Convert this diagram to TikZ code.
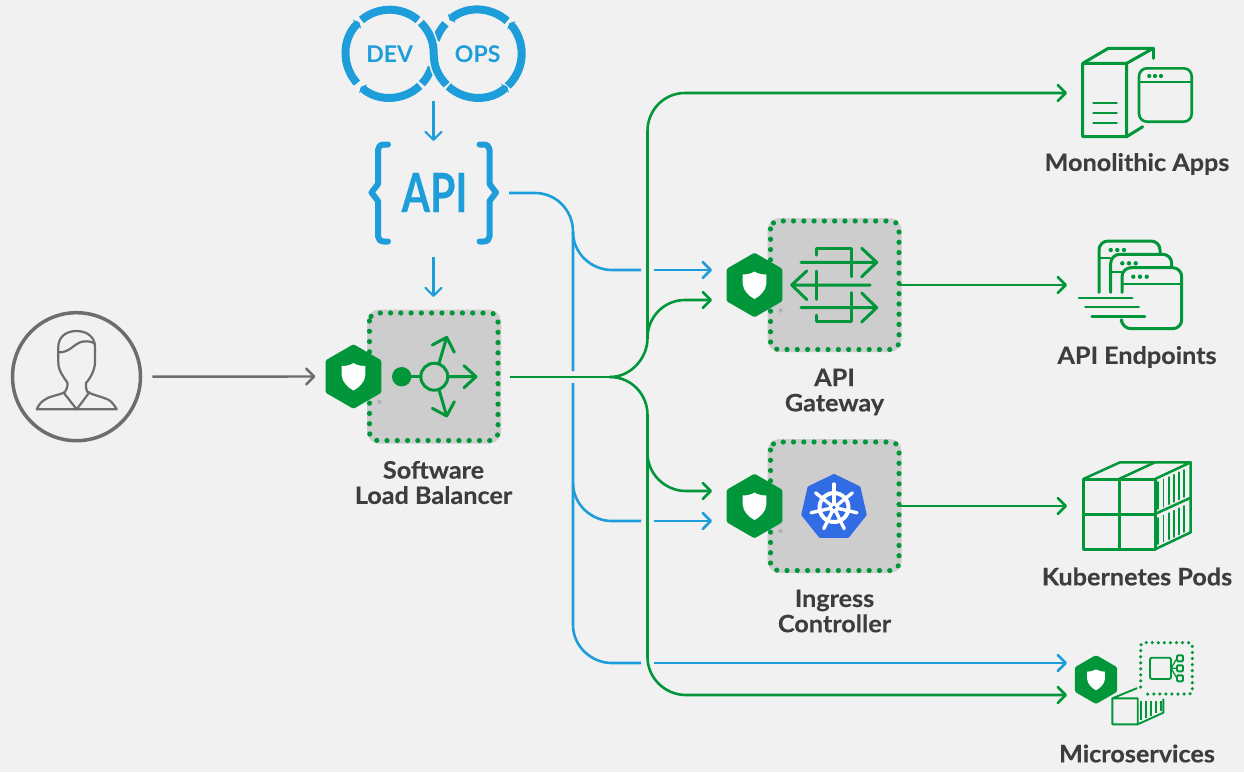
\documentclass[tikz,border=0pt]{standalone}
\usepackage{fontspec}
\setmainfont{Lato}
\newfontfamily\labelfont[FakeStretch=1.05,BoldFeatures={FakeBold=0.25}]{Lato}
\usetikzlibrary{arrows.meta,shapes.geometric}
\definecolor{bg}{HTML}{F1F1F1}
\definecolor{ngreen}{HTML}{009639}
\definecolor{nblue}{HTML}{1D9DD9}
\definecolor{ngray}{HTML}{6D6D6D}
\definecolor{ntext}{HTML}{3D3D3D}
\definecolor{boxgray}{HTML}{CDCDCD}
\definecolor{kblue}{HTML}{326CE5}
\tikzset{
  gline/.style={draw=ngreen,line width=2.6pt},
  bline/.style={draw=nblue,line width=2.6pt},
  barrow/.style={-{Straight Barb[length=8pt,width=16pt,round]}},
  graybox/.style={fill=boxgray,rounded corners=12pt,minimum width=134pt,minimum height=134pt,inner sep=0pt},
  dotline/.style={draw=ngreen,line width=5.2pt,line cap=round,dash pattern=on 0pt off 10.27pt,rounded corners=8pt},
  hexnode/.style={regular polygon,regular polygon sides=6,regular polygon rotate=30,fill=ngreen,inner sep=0pt,rounded corners=1.5pt},
  label/.style={font=\fontsize{24}{25.3}\labelfont\bfseries,text=ntext,align=center,inner sep=0pt},
  icon/.style={draw=ngreen,line width=3pt,line join=round,line cap=round},
  thin icon/.style={draw=ngreen,line width=1.9pt,line join=round,line cap=round},
  person/.style={draw=ngray,line width=2.2pt,line join=round,line cap=round},
  ringline/.style={draw=nblue,line width=8pt},
  ringtip/.style={-{Triangle[length=3pt,width=12pt]}},
  brace/.style={draw=nblue,line width=6pt,line cap=round,line join=round},
}
\newcommand{\shieldat}[3]{%
  \fill[white,shift={(#1,#2)},scale=#3] (0,-14) .. controls (4,-11.5) and (8,-11) .. (11.8,-11)
    -- (11.8,-2) .. controls (11.8,5) and (5,11) .. (0,13.5)
    .. controls (-5,11) and (-11.8,5) .. (-11.8,-2) -- (-11.8,-11)
    .. controls (-8,-11) and (-4,-11.5) .. (0,-14) -- cycle;}
\begin{document}
\begin{tikzpicture}[x=1pt,y=-1pt]
\useasboundingbox (0,0) rectangle (1244,772);
\fill[bg] (0,0) rectangle (1244,772);

% named connector points
\coordinate (apiout) at (509,193);
\coordinate (bj1) at (573,232);
\coordinate (bj2) at (573,483);
\coordinate (bj3) at (573,625);
\coordinate (gout) at (510,377);
\coordinate (gj) at (610,377);
\coordinate (gwblue) at (712,270);
\coordinate (gwgreen) at (712,300);
\coordinate (icgreen) at (712,491);
\coordinate (icblue) at (712,521);
\coordinate (monoin) at (1067,93);
\coordinate (epin) at (1067,285);
\coordinate (podin) at (1067,506);
\coordinate (msblue) at (1067,663);
\coordinate (msgreen) at (1067,695);
\coordinate (devout) at (433.5,101);
\coordinate (apiin) at (433.5,141);
\coordinate (apibot) at (433.5,257);
\coordinate (slbin) at (433.5,297);

% gray boxes
\node[graybox] (slb) at (434,376.5) {};
\draw[dotline] (369.5,313) rectangle (498,440.5);
\node[graybox] (gw) at (834.5,285) {};
\draw[dotline] (770.5,221) rectangle (899,349.5);
\node[graybox] (ic) at (834.5,506) {};
\draw[dotline] (770.5,442) rectangle (899,570.5);

% blue connectors
\draw[bline] (apiout) -- (535,193) .. controls (556,193) and (573,210) .. (bj1) -- (573,371);
\draw[bline] (bj1) .. controls (573,253) and (591,270) .. (612,270) -- (641,270);
\draw[bline,barrow] (654,270) -- (gwblue);
\draw[bline] (573,383) -- (bj3) .. controls (573,646) and (591,663) .. (612,663) -- (641,663);
\draw[bline,barrow] (654,663) -- (msblue);
\draw[bline] (bj2) .. controls (573,504) and (591,521) .. (612,521) -- (641,521);
\draw[bline,barrow] (654,521) -- (icblue);

% green connectors
\draw[gline] (gout) -- (gj);
\draw[gline,barrow] (gj) .. controls (631,377) and (647.5,358) .. (647.5,338) -- (647.5,131) .. controls (647.5,110) and (664,93) .. (685,93) -- (monoin);
\draw[gline,barrow] (647.5,338) .. controls (647.5,317) and (664,300) .. (685,300) -- (gwgreen);
\draw[gline,barrow] (gj) .. controls (631,377) and (647.5,394) .. (647.5,415) -- (647.5,657) .. controls (647.5,678) and (665,695) .. (686,695) -- (msgreen);
\draw[gline,barrow] (647.5,453) .. controls (647.5,474) and (665,491) .. (686,491) -- (icgreen);
\draw[gline,barrow,shorten <=-3pt] (gw.east) -- (epin);
\draw[gline,barrow,shorten <=-3pt] (ic.east) -- (podin);

% hexagons
\node[hexnode,minimum size=64.6pt] (slbhex) at (353.5,376.5) {};
\shieldat{353.5}{377}{1}
\fill[gray!60] (379.5,402) circle (2.2);
\node[hexnode,minimum size=64.6pt] (gwhex) at (754.5,285) {};
\shieldat{754.5}{285.5}{1}
\fill[gray!60] (780.5,310.5) circle (2.2);
\node[hexnode,minimum size=64.6pt] (ichex) at (754.5,506) {};
\shieldat{754.5}{506.5}{1}
\fill[gray!60] (780.5,531) circle (2.2);
\node[hexnode,minimum size=49pt] (mshex) at (1096,679.5) {};
\shieldat{1096}{680}{0.76}

% user
\node[circle,draw=ngray,line width=3.5pt,minimum size=128pt,inner sep=0pt] (user) at (76.5,376.7) {};
\draw[person] (36.7,409.3) -- (116.7,409.3) .. controls (113,403) and (110,400) .. (106.7,399)
  .. controls (100,396) and (92,395) .. (87.3,391.7) .. controls (86,388) and (85.5,386) .. (86,383)
  .. controls (87,381) and (90,379) .. (91,376) .. controls (94,370) and (95,366) .. (95,362)
  -- (95,347) .. controls (95,337) and (87,331) .. (76.5,331) .. controls (66,331) and (58.3,337) .. (58.3,347)
  -- (58.3,362) .. controls (58.3,367) and (60,372) .. (63,376) .. controls (65,380) and (67,381) .. (67.5,383)
  .. controls (67.5,387) and (67,389) .. (65,392) .. controls (60,395) and (50,396) .. (46,399)
  .. controls (42,401) and (39,404) .. (36.7,409.3);
\draw[person] (63.5,392.5) -- (76.7,409.3) -- (89.3,392.5);
\draw[person] (58.3,352.3) .. controls (70,353) and (74,343) .. (83,341.5) .. controls (88,341) and (92,341.5) .. (95,344);
\draw[draw=ngray,line width=2.4pt,-{Straight Barb[length=8pt,width=16pt,round]},shorten <=10pt,shorten >=10pt] (user.east) -- (slbhex.west);

% load balancer icon
\fill[ngreen] (401.7,376.7) circle (9.7);
\draw[icon] (401.7,376.7) -- (421,376.7);
\node[circle,draw=ngreen,line width=3pt,minimum size=27pt,inner sep=0pt] (lbc) at (434.3,376.7) {};
\draw[icon] (lbc.east) -- (476,376.7) (464,365.7) -- (476,376.7) -- (464,387.7);
\draw[icon] (439.3,362.3) -- (446.7,337.3) (432.3,345) -- (446.7,337.3) -- (454.3,352.3);
\draw[icon] (439.3,390.7) -- (446.7,416) (432.3,408.3) -- (446.7,416) -- (454.3,401.7);

% gateway icon
\draw[icon] (816.5,255) -- (816.5,248.3) -- (851.7,248.3) -- (851.7,276.7);
\draw[icon] (801,262.3) -- (876.7,262.3) (861.7,248.3) -- (876.7,262.3) -- (861.7,276.7);
\draw[icon] (870,285) -- (791.7,285) (806.7,271) -- (791.7,285) -- (806.7,299.5);
\draw[icon] (816.7,271) -- (816.7,299.3);
\draw[icon] (801,307.7) -- (876.7,307.7) (861.7,293) -- (876.7,307.7) -- (861.7,322);
\draw[icon] (816.7,315) -- (816.7,321.7) -- (851.7,321.7) -- (851.7,292.7);

% kubernetes logo
\node[regular polygon,regular polygon sides=7,fill=kblue,draw=kblue,line width=3pt,line join=round,minimum size=64pt,inner sep=0pt] (k8s) at (834,507.5) {};
\draw[white,line width=4pt] (834,507.5) circle (14.5);
\foreach \a in {90,141.43,192.86,244.29,295.71,347.14,398.57}
  \draw[white,line width=3.4pt,line cap=round] (834,507.5) -- ++(\a:23.5pt);
\fill[white] (834,507.5) circle (5.5);
\fill[kblue] (834,507.5) circle (1.8);

% monolithic icon
\draw[icon] (1126.7,136.7) -- (1082.7,136.7) -- (1082.7,63.3) -- (1126.7,63.3) -- (1126.7,136.7) -- (1142.7,126.7);
\draw[icon] (1082.7,63.3) -- (1108.3,48.3) -- (1153.3,48.3) -- (1126.7,63.3);
\draw[icon] (1153.3,48.3) -- (1153.3,58.3);
\draw[thin icon,line width=2.2pt] (1093.3,102.7) -- (1116.7,102.7) (1093.3,112.7) -- (1116.7,112.7) (1093.3,122.7) -- (1116.7,122.7);
\draw[icon,line width=2.6pt,rounded corners=8pt] (1139,68.3) rectangle (1191.7,121.7);
\draw[icon,line width=2.2pt,line cap=butt] (1139,82.3) -- (1191.7,82.3);
\foreach \x in {1149.3,1155,1161} \fill[ngreen] (\x,76) circle (2.1);

% endpoints icon
\draw[icon,rounded corners=9pt] (1099,292.3) -- (1099,241) -- (1160,241) -- (1160,254);
\draw[icon,line width=2.2pt] (1099,258.3) -- (1110,258.3);
\foreach \x in {1110.7,1117.3,1124} \fill[ngreen] (\x,250) circle (2.2);
\draw[icon,rounded corners=9pt] (1110.7,292.3) -- (1110.7,254.3) -- (1171.7,254.3) -- (1171.7,267.3);
\draw[icon,line width=2.2pt] (1110.7,271.7) -- (1122,271.7);
\foreach \x in {1122.3,1129,1135.7} \fill[ngreen] (\x,263.3) circle (2.2);
\draw[icon,rounded corners=9pt] (1122,292.3) -- (1122,267.7) -- (1181.7,267.7) -- (1181.7,328.7) -- (1122,328.7) -- (1121.5,321.7);
\draw[icon,line width=2.2pt] (1122,284.3) -- (1181,284.3);
\foreach \x in {1133.3,1140,1146.7} \fill[ngreen] (\x,276.7) circle (2.2);
\draw[icon,line width=2.4pt] (1079,297.7) -- (1132.3,297.7) (1085.3,307) -- (1138.7,307) (1091.7,316.3) -- (1145,316.3);

% pods icon
\draw[icon] (1083.3,479) rectangle (1155,549.3);
\draw[icon] (1119,479) -- (1119,549.3) (1083.3,514) -- (1155,514);
\draw[icon,line width=2.5pt] (1083.3,479) -- (1120,462.3) -- (1190.7,462.3) -- (1155,479);
\draw[icon,line width=2.5pt] (1119,479) -- (1155,462.3);
\draw[icon,line width=2.5pt] (1190.7,462.3) -- (1190.7,532.3) -- (1155,549.3);
\draw[icon,line width=2.5pt] (1155,514) -- (1190.7,497.7);
\foreach \i in {0,...,5} {
  \draw[thin icon] (1158.3+5.2*\i,482-2.4*\i) -- (1158.3+5.2*\i,509-2.4*\i);
  \draw[thin icon] (1158.3+5.2*\i,518-2.4*\i) -- (1158.3+5.2*\i,544-2.4*\i);
}

% microservices icon
\draw[draw=ngreen,line width=3.5pt,line cap=round,dash pattern=on 0pt off 6.05pt,rounded corners=3pt]
  (1140.7,687) -- (1140.7,642.7) -- (1192.3,642.7) -- (1192.3,694) -- (1145,694);
\draw[thin icon,rounded corners=2pt] (1150,657.7) rectangle (1171,679);
\draw[thin icon,rounded corners=1pt] (1177,655.3) rectangle (1183,661.3);
\draw[thin icon,rounded corners=1pt] (1177,665.3) rectangle (1183,671.3);
\draw[thin icon,rounded corners=1pt] (1177,675.3) rectangle (1183,681.3);
\draw[draw=ngreen,line width=1.3pt] (1171,668.3) -- (1177,658.3) (1171,668.3) -- (1177,668.3) (1171,668.3) -- (1177,678.3);
\draw[thin icon] (1136.7,688.3) -- (1112.3,698.3) -- (1112.3,724.3) -- (1137.7,724.3) -- (1137.7,698.3) -- (1112.3,698.3);
\draw[thin icon] (1137.7,724.3) -- (1163.3,712.7) -- (1163.3,699.3);
\foreach \i in {0,...,4}
  \draw[draw=ngreen,line width=1.3pt] (1141+5*\i,701) -- (1141+5*\i,720-2.2*\i);

% devops rings
\coordinate (dev) at (389.7,53.7);
\coordinate (ops) at (477.7,53.7);
\draw[ringline] ([shift={(-18:44pt)}]dev) arc[start angle=-18,end angle=-43,radius=44pt];
\draw[ringline] ([shift={(162:44pt)}]ops) arc[start angle=162,end angle=137,radius=44pt];
\draw[ringline,ringtip] ([shift={(-47:44pt)}]dev) arc[start angle=-47,end angle=-131,radius=44pt];
\draw[ringline,ringtip] ([shift={(222:44pt)}]dev) arc[start angle=222,end angle=134,radius=44pt];
\draw[ringline] ([shift={(130:44pt)}]dev) arc[start angle=130,end angle=50,radius=44pt];
\draw[ringline,ringtip] ([shift={(-47:44pt)}]ops) arc[start angle=-47,end angle=44,radius=44pt];
\draw[ringline,ringtip] ([shift={(48:44pt)}]ops) arc[start angle=48,end angle=130,radius=44pt];
\draw[ringline,ringtip] ([shift={(228:44pt)}]ops) arc[start angle=228,end angle=312,radius=44pt];
\draw[bg,line width=11pt] (423,25) .. controls (430,33) and (433.7,42) .. (433.7,53.7) .. controls (433.7,65) and (437,75) .. (444,82);
\draw[nblue,line width=8pt] (420.8,22.6) .. controls (430,32) and (433.7,42) .. (433.7,53.7) .. controls (433.7,65) and (437,75) .. (446.6,84.8);
\node[font=\fontsize{23}{25}\selectfont\bfseries,text=nblue,inner sep=0pt] (devtxt) at (dev) {DEV};
\node[font=\fontsize{23}{25}\selectfont\bfseries,text=nblue,inner sep=0pt] (opstxt) at (ops) {OPS};

% API
\node[font=\fontsize{54}{54}\labelfont\bfseries,text=nblue,inner sep=0pt] (apitxt) at (434.5,192.5) {\scalebox{0.72}[1]{API}};
\draw[brace] (388,144.5) -- (384,144.5) .. controls (380,144.5) and (378,147) .. (378,150) -- (378,184) -- (371.5,192.5) -- (378,201) -- (378,236) .. controls (378,239) and (380,241.5) .. (384,241.5) -- (388,241.5);
\draw[brace] (479.6,144.5) -- (483.6,144.5) .. controls (487.6,144.5) and (489.6,147) .. (489.6,150) -- (489.6,184) -- (496,192.5) -- (489.6,201) -- (489.6,236) .. controls (489.6,239) and (487.6,241.5) .. (483.6,241.5) -- (479.6,241.5);
\draw[bline,barrow,line width=2.2pt] (devout) -- (apiin);
\draw[bline,barrow,line width=2.2pt] (apibot) -- (slbin);

% labels
\node[label] (lslb) at (433.5,482.5) {Software\\Load Balancer};
\node[label] (lgw) at (834.5,392) {API\\Gateway};
\node[label] (lic) at (834.5,611) {Ingress\\Controller};
\node[label] (lmono) at (1137,164) {Monolithic Apps};
\node[label] (lep) at (1137,357) {API Endpoints};
\node[label] (lpods) at (1137,576.5) {Kubernetes Pods};
\node[label] (lms) at (1137,753.5) {Microservices};
\end{tikzpicture}
\end{document}
